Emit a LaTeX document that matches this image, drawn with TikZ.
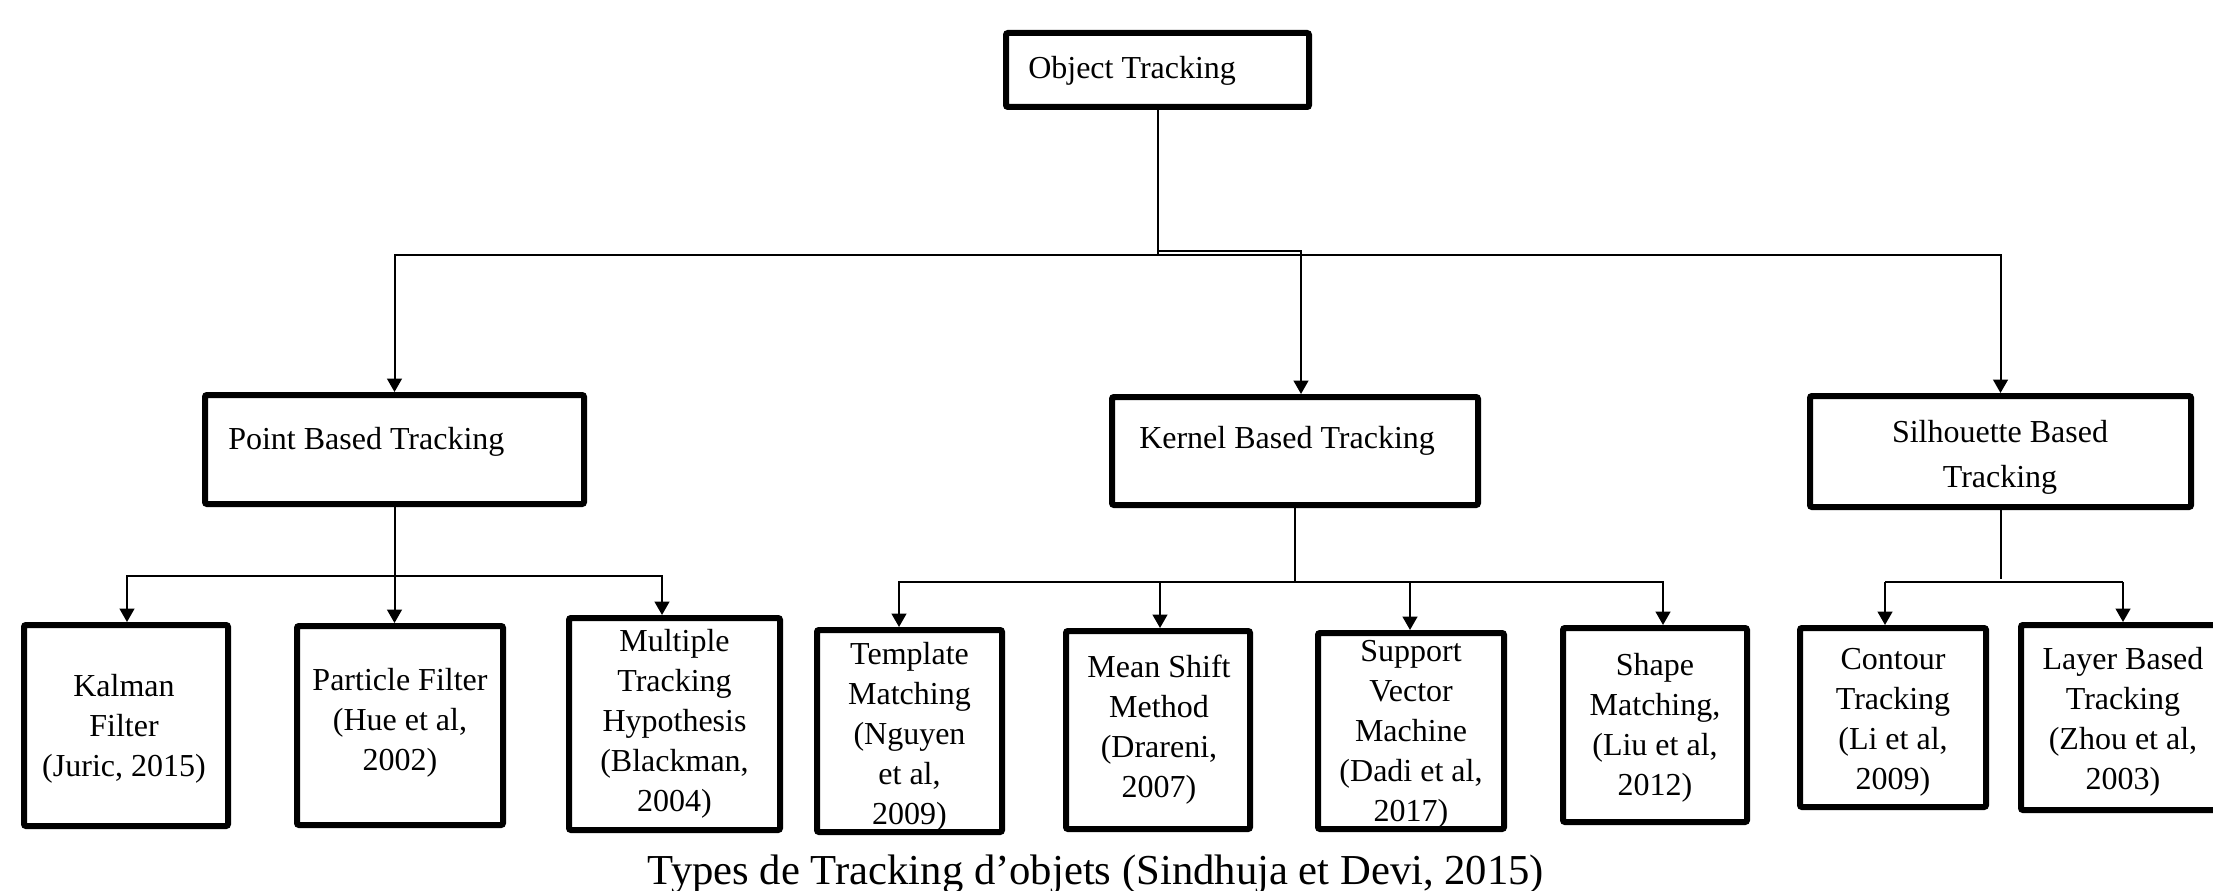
\documentclass[tikz,border=0pt]{standalone}
\usepackage{fontspec}
\setmainfont{Liberation Serif}
\usetikzlibrary{arrows.meta}
\begin{document}
\begin{tikzpicture}[x=0.75pt,y=-0.75pt,
  box/.style={draw, line width=4.5pt, rounded corners=1.5pt, inner sep=0pt},
  lbl/.style={font=\fontsize{24pt}{30pt}\selectfont, inner sep=0pt, align=center},
  conn/.style={line width=1.5pt},
  arr/.style={conn, -{Triangle[length=10pt,width=11pt]}}]
\useasboundingbox (0,0) rectangle (2213,891);
\clip (0,0) rectangle (2213,891);
\fill[white] (0,0) rectangle (2213,891);

% level 0
\node[box, minimum width=227.25pt, minimum height=55.5pt] (OT) at (1157.5,70) {};
\node[lbl, anchor=base west] (OTt) at (1028,79) {Object Tracking};

% level 1
\node[box, minimum width=284.25pt, minimum height=81.75pt] (P) at (394.5,449.5) {};
\node[lbl, anchor=base west] (Pt) at (228,449) {Point Based Tracking};
\node[box, minimum width=274.5pt, minimum height=81pt] (K) at (1295,451) {};
\node[lbl, anchor=base west] (Kt) at (1139,448) {Kernel Based Tracking};
\node[box, minimum width=285.75pt, minimum height=83.25pt] (S) at (2000.5,451.5) {};
\node[lbl, anchor=base] (St1) at (2000,442) {Silhouette Based};
\node[lbl, anchor=base] (St2) at (2000,487) {Tracking};

% level 2 boxes
\node[box, minimum width=153pt, minimum height=150.75pt] (Ka) at (126,725.5) {};
\node[box, minimum width=154.5pt, minimum height=149.25pt] (Pa) at (400,725.5) {};
\node[box, minimum width=158.25pt, minimum height=159pt] (M) at (674.5,724) {};
\node[box, minimum width=138.75pt, minimum height=151.5pt] (T) at (909.5,731) {};
\node[box, minimum width=138pt, minimum height=148.5pt] (MS) at (1158,730) {};
\node[box, minimum width=139.5pt, minimum height=147pt] (SV) at (1411,731) {};
\node[box, minimum width=138pt, minimum height=145.5pt] (Sh) at (1655,725) {};
\node[box, minimum width=139.5pt, minimum height=134.25pt] (C) at (1893,717.5) {};
\node[box, minimum width=153pt, minimum height=138.75pt] (L) at (2123,717.5) {};

% level 2 texts
\node[lbl] (Kat) at (124,728.5) {Kalman\\Filter\\(Juric, 2015)};
\node[lbl] (Pat) at (400,722.5) {Particle Filter\\(Hue et al,\\2002)};
\node[lbl] (Mt) at (674.5,724) {Multiple\\Tracking\\Hypothesis\\(Blackman,\\2004)};
\node[lbl] (Tt) at (909.5,737) {Template\\Matching\\(Nguyen\\et al,\\2009)};
\node[lbl] (MSt) at (1159,730) {Mean Shift\\Method\\(Drareni,\\2007)};
\node[lbl] (SVt) at (1411,734) {Support\\Vector\\Machine\\(Dadi et al,\\2017)};
\node[lbl] (Sht) at (1655,728) {Shape\\Matching,\\(Liu et al,\\2012)};
\node[lbl] (Ct) at (1893,722.5) {Contour\\Tracking\\(Li et al,\\2009)};
\node[lbl] (Lt) at (2123,721.5) {Layer Based\\Tracking\\(Zhou et al,\\2003)};

% caption
\node[font=\fontsize{32pt}{38pt}\selectfont, anchor=base, inner sep=0pt] (cap) at (1096,884) {Types de Tracking d’objets (Sindhuja et Devi, 2015)};

% connectors level 0 -> 1
\coordinate (r1) at (0,255);
\coordinate (r1k) at (1301,251);
\draw[arr] (OT.south) -- (OT.south |- r1) -| (P.north);
\draw[arr] (OT.south) -- (OT.south |- r1) -| (S.north);
\draw[arr] (OT.south) |- (r1k) -- (r1k |- K.north);

% point children
\coordinate (pk) at (127,576);
\coordinate (pm) at (662,576);
\draw[arr] (P.south) |- (pk) -- (pk |- Ka.north);
\draw[arr] (P.south) -- (P.south |- Pa.north);
\draw[arr] (P.south) |- (pm) -- (pm |- M.north);

% kernel children
\coordinate (k1) at (899,582);
\coordinate (k2) at (1160,582);
\coordinate (k3) at (1410,582);
\coordinate (k4) at (1663,582);
\draw[arr] (K.south) |- (k1) -- (k1 |- T.north);
\draw[arr] (K.south) |- (k4) -- (k4 |- Sh.north);
\draw[arr] (k2) -- (k2 |- MS.north);
\draw[arr] (k3) -- (k3 |- SV.north);

% silhouette children
\coordinate (sj) at (2001,579);
\coordinate (s1) at (1885,582);
\coordinate (s2) at (2123,582);
\draw[conn] (S.south) -- (S.south |- sj);
\draw[conn] (s1) -- (s2);
\draw[arr] (s1) -- (s1 |- C.north);
\draw[arr] (s2) -- (s2 |- L.north);
\end{tikzpicture}
\end{document}
